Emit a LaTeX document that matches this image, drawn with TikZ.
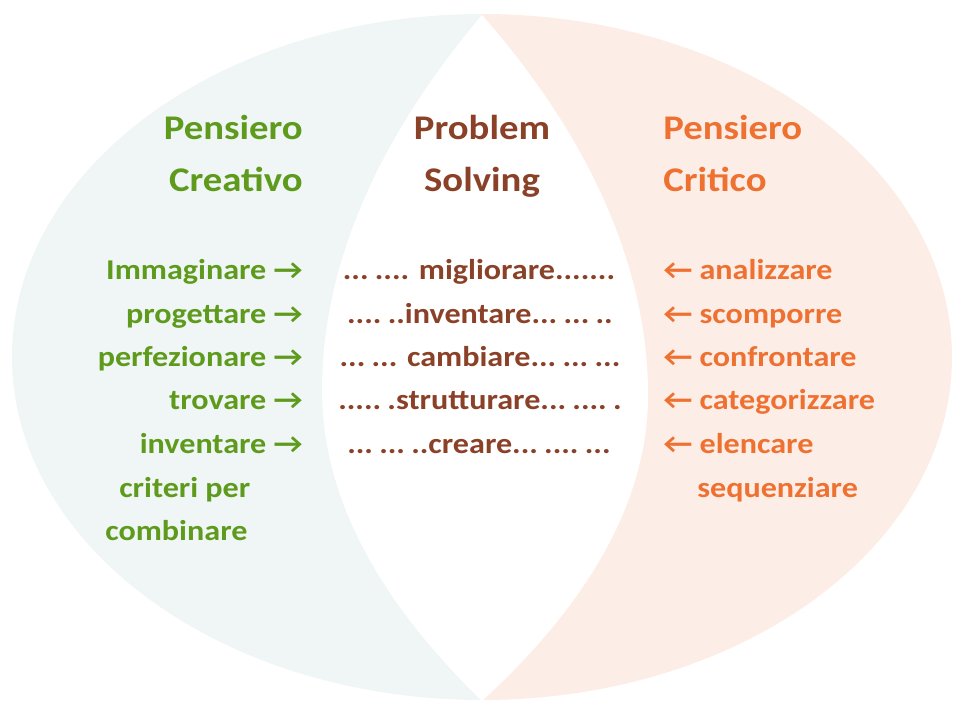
\documentclass[tikz,border=0pt]{standalone}
\usepackage{fontspec}
\setmainfont[FakeStretch=1.12]{Carlito}
\usepackage{tikz}
\usetikzlibrary{positioning}
\definecolor{sfondoverde}{HTML}{EFF6F5}
\definecolor{sfondoarancio}{HTML}{FCEEE6}
\definecolor{verde}{HTML}{5E9A1C}
\definecolor{marrone}{HTML}{8A4128}
\definecolor{arancio}{HTML}{EE7132}
\newcommand{\pausa}{\hspace{0.22em}}

\begin{document}
\begin{tikzpicture}[x=0.025cm,y=-0.025cm]
  \tikzstyle{titolo}=[inner sep=0pt,font=\fontsize{24.6}{28}\selectfont\bfseries]
  \tikzstyle{voce}=[inner sep=0pt,font=\fontsize{20.4}{23}\selectfont\bfseries]

  \useasboundingbox (0,0) rectangle (956,702);

  % the two halves of the big ellipse
  \begin{scope}
    \clip (482,357) ellipse [x radius=470, y radius=343];
    \fill[sfondoverde] (0,0) rectangle (482,702);
    \fill[sfondoarancio] (482,0) rectangle (956,702);
  \end{scope}
  % white lens in the middle
  \fill[white] (482,15) .. controls (378,138) and (322,265) .. (322,390)
     .. controls (322,494) and (375,597) .. (482,701)
     .. controls (593,599) and (648,497) .. (648,395)
     .. controls (648,268) and (590,138) .. (482,15) -- cycle;

  % titles
  \node[titolo,text=verde,anchor=base east] (cre1) at (303,140) {Pensiero};
  \node[titolo,text=verde,anchor=base east] (cre2) at (303,192) {Creativo};
  \node[titolo,text=marrone,anchor=base] (pro1) at (482,140) {Problem};
  \node[titolo,text=marrone,anchor=base] (pro2) at (482,192) {Solving};
  \node[titolo,text=arancio,anchor=base west] (cri1) at (663,140) {Pensiero};
  \node[titolo,text=arancio,anchor=base west] (cri2) at (663,192) {Critico};

  % creative side
  \node[voce,text=verde,anchor=base east] (imm) at (303,280) {Immaginare →};
  \node[voce,text=verde,anchor=base east] (pro) at (303,324) {progettare →};
  \node[voce,text=verde,anchor=base east] (per) at (303,367) {perfezionare →};
  \node[voce,text=verde,anchor=base east] (tro) at (303,410) {trovare →};
  \node[voce,text=verde,anchor=base east] (inv) at (303,453) {inventare →};
  \node[voce,text=verde,anchor=base west] (crp) at (119,497) {criteri per};
  \node[voce,text=verde,anchor=base west] (com) at (105,540) {combinare};

  % problem solving
  \node[voce,text=marrone,anchor=base] (mig) at (479,280) {...\pausa.... migliorare.......};
  \node[voce,text=marrone,anchor=base] (inp) at (480,324) {....\pausa..inventare...\pausa...\pausa..};
  \node[voce,text=marrone,anchor=base] (cam) at (480,367) {...\pausa... cambiare...\pausa...\pausa...};
  \node[voce,text=marrone,anchor=base] (str) at (480,410) {.....\pausa.strutturare...\pausa....\pausa.};
  \node[voce,text=marrone,anchor=base] (cre) at (479,453) {...\pausa...\pausa..creare...\pausa....\pausa...};

  % critical side
  \node[voce,text=arancio,anchor=base west] (ana) at (663,280) {← analizzare};
  \node[voce,text=arancio,anchor=base west] (sco) at (663,324) {← scomporre};
  \node[voce,text=arancio,anchor=base west] (con) at (663,367) {← confrontare};
  \node[voce,text=arancio,anchor=base west] (cat) at (663,410) {← categorizzare};
  \node[voce,text=arancio,anchor=base west] (ele) at (663,453) {← elencare};
  \node[voce,text=arancio,anchor=base west] (seq) at (697,497) {sequenziare};
\end{tikzpicture}
\end{document}
